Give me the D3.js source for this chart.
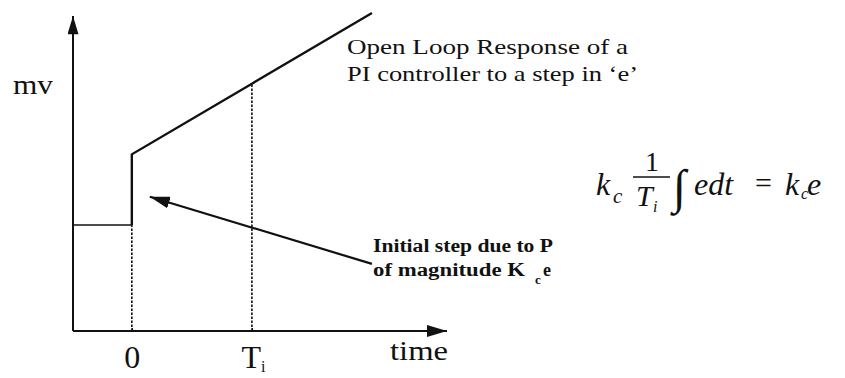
<!DOCTYPE html>
<html>
<head>
<meta charset="utf-8">
<script src="https://cdn.jsdelivr.net/npm/d3@7/dist/d3.min.js"></script>
<style>
  html, body { margin: 0; padding: 0; background: #fff; }
  svg { display: block; }
  svg text { font-family: "Liberation Serif", "Times New Roman", Times, "DejaVu Serif", serif; fill: #111; }
</style>
</head>
<body>
<svg id="chart" width="845" height="378"></svg>
<script>
// ---- data ----
// time in units of Ti, mv in units of Kc*e
const mvTimes  = [-0.49, 0, 0, 1, 2];
const mvValues = [1.5, 1.5, 2.5, 3.5, 4.5];
const tickValues = [0, 1];
const tickLabels = [["0", ""], ["T", "i"]];
const guideTimes = [0, 1];          // dotted verticals
const guideTops  = [1.5, 3.5];      // mv where each dotted vertical stops
const axisLabelX = "time";
const axisLabelY = "mv";
const titleLines = ["Open Loop Response of a", "PI controller to a step in \u2018e\u2019"];
const noteLines = ["Initial step due to P", "of magnitude K"];
const arrowFrom = [2.0, 0.95];      // [time, mv]
const arrowTo   = [0.15, 1.9];

const SERIF = '"Liberation Serif", "Times New Roman", Times, "DejaVu Serif", serif';

// ---- scales ----
const x = d3.scaleLinear().domain([-0.49, 2.625]).range([73, 447]);
const y = d3.scaleLinear().domain([0, 4.5]).range([331, 13]);

const svg = d3.select("#chart");
const defs = svg.append("defs");
defs.append("marker").attr("id", "ah").attr("viewBox", "0 0 20 12")
  .attr("refX", 20).attr("refY", 6).attr("markerWidth", 20).attr("markerHeight", 12)
  .attr("markerUnits", "userSpaceOnUse").attr("orient", "auto")
  .append("path").attr("d", "M0,0 L20,6 L0,12 Z").attr("fill", "#111");
defs.append("marker").attr("id", "ah2").attr("viewBox", "0 0 20 12")
  .attr("refX", 20).attr("refY", 6).attr("markerWidth", 20).attr("markerHeight", 11)
  .attr("markerUnits", "userSpaceOnUse").attr("orient", "auto")
  .append("path").attr("d", "M0,0 L20,6 L0,12 Z").attr("fill", "#111");

// ---- axes ----
const xAxis = d3.axisBottom(x).tickValues(tickValues).tickSize(4).tickSizeOuter(0)
  .tickFormat((d, i) => tickLabels[i][0]);
const gx = svg.append("g").attr("transform", `translate(0,${y(0)})`).call(xAxis)
  .attr("font-family", null).attr("font-size", null);
gx.select(".domain").remove();
gx.selectAll(".tick line").attr("y1", -3).attr("y2", 0).attr("stroke", "#111").attr("stroke-width", 1.2);
gx.selectAll(".tick text")
  .attr("y", 37).attr("dy", 0)
  .style("font-size", "32px").style("font-family", SERIF).attr("fill", "#111")
  .each(function(d, i) {
    const sub = tickLabels[i][1];
    if (sub) {
      d3.select(this).attr("text-anchor", "start").attr("x", -11);
      d3.select(this).append("tspan").attr("dy", 4).style("font-size", "16px").text(sub);
    }
  });
svg.append("line")
  .attr("x1", x.range()[0]).attr("x2", x.range()[1])
  .attr("y1", y(0)).attr("y2", y(0))
  .attr("stroke", "#111").attr("stroke-width", 2).attr("marker-end", "url(#ah)");

const yTop = 4.6;
const yAxis = d3.axisLeft(y).tickValues([]).tickSizeOuter(0);
const gy = svg.append("g").attr("transform", `translate(${x.range()[0]},0)`).call(yAxis);
gy.select(".domain").remove();
svg.append("line")
  .attr("x1", x.range()[0]).attr("x2", x.range()[0])
  .attr("y1", y(0)).attr("y2", y(yTop) + 10)
  .attr("stroke", "#111").attr("stroke-width", 2).attr("marker-end", "url(#ah2)");

// ---- dotted guides ----
svg.selectAll(".guide").data(guideTimes).join("line")
  .attr("class", "guide")
  .attr("x1", d => x(d)).attr("x2", d => x(d))
  .attr("y1", y(0))
  .attr("y2", (d, i) => y(guideTops[i]))
  .attr("stroke", "#111").attr("stroke-width", 1.6).attr("stroke-dasharray", "2.5,1.5");

// ---- response line ----
const pts = mvTimes.map((t, i) => [t, mvValues[i]]);
const line = d3.line().x(d => x(d[0])).y(d => y(d[1]));
svg.append("path").datum(pts.slice(0, 2)).attr("d", line)
  .attr("fill", "none").attr("stroke", "#111").attr("stroke-width", 1.6);
svg.append("path").datum(pts.slice(1)).attr("d", line)
  .attr("fill", "none").attr("stroke", "#111").attr("stroke-width", 2.4).attr("stroke-linejoin", "miter");

// ---- axis labels ----
svg.append("text").attr("x", 13).attr("y", 94).attr("textLength", 40)
  .attr("lengthAdjust", "spacingAndGlyphs").style("font-size", "28px").text(axisLabelY);
svg.append("text").attr("x", 390).attr("y", 360).attr("textLength", 58)
  .attr("lengthAdjust", "spacingAndGlyphs").style("font-size", "28px").text(axisLabelX);

// ---- title annotation ----
const titleLens = [281, 291];
svg.selectAll(".title").data(titleLines).join("text")
  .attr("class", "title")
  .attr("x", 347).attr("y", (d, i) => 54 + i * 27)
  .attr("textLength", (d, i) => titleLens[i]).attr("lengthAdjust", "spacingAndGlyphs")
  .style("font-size", "22px").text(d => d);

// ---- step note + arrow ----
svg.append("line")
  .attr("x1", x(arrowFrom[0])).attr("y1", y(arrowFrom[1]))
  .attr("x2", x(arrowTo[0])).attr("y2", y(arrowTo[1]))
  .attr("stroke", "#111").attr("stroke-width", 2.2).attr("marker-end", "url(#ah)");
svg.append("text").attr("x", 373).attr("y", 252).attr("textLength", 180)
  .attr("lengthAdjust", "spacingAndGlyphs").style("font-size", "18px")
  .style("font-weight", "bold").text(noteLines[0]);
const n2 = svg.append("text").attr("x", 373).attr("y", 276).style("font-size", "18px").style("font-weight", "bold");
n2.append("tspan").attr("textLength", 152).attr("lengthAdjust", "spacingAndGlyphs").text(noteLines[1]);
n2.append("tspan").attr("x", 535).attr("dy", 8).style("font-size", "13px").text("c");
n2.append("tspan").attr("x", 543).attr("dy", -8).text("e");

// ---- formula ----
const f = svg.append("g");
const it = (xx, yy, s, txt, italic = true) => f.append("text").attr("x", xx).attr("y", yy)
  .style("font-size", s + "px").style("font-style", italic ? "italic" : "normal").text(txt);
it(596, 195, 32, "k");
it(613, 203, 21, "c");
it(645, 171, 28, "1", false);
f.append("line").attr("x1", 633).attr("x2", 670).attr("y1", 177).attr("y2", 177)
  .attr("stroke", "#111").attr("stroke-width", 1.6);
it(636, 206, 30, "T");
it(653, 212, 16, "i");
f.append("text").attr("x", 673).attr("y", 203).style("font-size", "48px").text("\u222B");
it(694, 195, 32, "edt");
it(755, 193, 30, "=", false);
it(785, 195, 32, "k");
it(801, 199, 16, "c");
it(807, 195, 32, "e");
</script>
</body>
</html>
